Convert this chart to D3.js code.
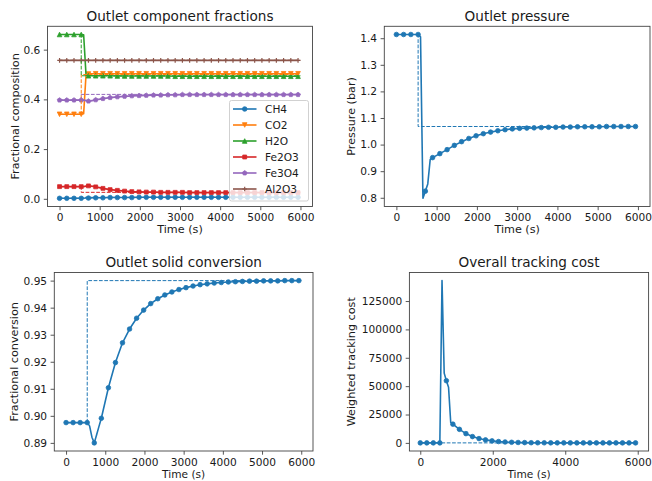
<!DOCTYPE html>
<html><head><meta charset="utf-8">
<script src="https://cdn.jsdelivr.net/npm/d3@7"></script>
<style>
body{margin:0;background:#fff;}
svg{display:block;font-family:"DejaVu Sans",sans-serif;}
</style></head><body>
<svg id="chart" width="652" height="481"></svg>
<script>
// ---------- data ----------
const time = [0,180,360,540,600,660,720,780,840,900,
  1080,1260,1440,1620,1800,1980,2160,2340,2520,2700,
  2880,3060,3240,3420,3600,3780,3960,4140,4320,4500,
  4680,4860,5040,5220,5400,5580,5760,5940];

const componentNames = ["CH4","CO2","H2O","Fe2O3","Fe3O4","Al2O3"];
const ch4 = [0.002,0.002,0.002,0.002,0.002,0.003,0.003,0.003,0.004,0.004,
  0.004,0.005,0.005,0.005,0.005,0.006,0.006,0.006,0.006,0.006,
  0.006,0.006,0.006,0.006,0.006,0.006,0.006,0.006,0.006,0.006,
  0.006,0.006,0.006,0.006,0.006,0.006,0.006,0.006];
const co2 = [0.340,0.340,0.340,0.340,0.342,0.500,0.502,0.503,0.503,0.503,
  0.503,0.503,0.503,0.503,0.503,0.503,0.503,0.503,0.503,0.503,
  0.503,0.503,0.503,0.503,0.503,0.503,0.503,0.503,0.503,0.503,
  0.503,0.503,0.503,0.503,0.503,0.503,0.503,0.503];
const h2o = [0.661,0.661,0.661,0.661,0.660,0.497,0.495,0.495,0.495,0.495,
  0.495,0.495,0.494,0.494,0.494,0.494,0.494,0.494,0.494,0.494,
  0.493,0.493,0.493,0.493,0.493,0.493,0.493,0.493,0.493,0.493,
  0.493,0.493,0.493,0.493,0.493,0.493,0.493,0.493];
const fe2o3 = [0.049,0.049,0.049,0.049,0.049,0.051,0.052,0.051,0.050,0.048,
  0.042,0.037,0.034,0.031,0.029,0.028,0.027,0.027,0.026,0.026,
  0.026,0.026,0.025,0.025,0.025,0.025,0.025,0.025,0.025,0.025,
  0.025,0.025,0.025,0.025,0.025,0.025,0.025,0.025];
const fe3o4 = [0.397,0.397,0.397,0.397,0.397,0.395,0.393,0.394,0.396,0.398,
  0.403,0.407,0.410,0.412,0.414,0.415,0.416,0.417,0.417,0.418,
  0.418,0.419,0.419,0.419,0.419,0.419,0.419,0.419,0.419,0.419,
  0.419,0.419,0.419,0.419,0.419,0.419,0.419,0.419];
const al2o3 = [0.557,0.557,0.557,0.557,0.557,0.557,0.557,0.557,0.557,0.557,
  0.557,0.557,0.557,0.557,0.557,0.557,0.557,0.557,0.557,0.557,
  0.557,0.557,0.557,0.557,0.557,0.557,0.557,0.557,0.557,0.557,
  0.557,0.557,0.557,0.557,0.557,0.557,0.557,0.557];

const pressure = [1.414,1.414,1.414,1.414,1.405,0.798,0.825,0.852,0.944,0.951,
  0.966,0.981,0.997,1.011,1.023,1.033,1.041,1.047,1.052,1.056,
  1.059,1.061,1.062,1.063,1.064,1.065,1.065,1.066,1.066,1.067,
  1.067,1.067,1.067,1.068,1.068,1.068,1.068,1.068];
const conversion = [0.8975,0.8975,0.8975,0.8975,0.8963,0.8921,0.8900,0.8930,0.8961,0.8991,
  0.9104,0.9197,0.9270,0.9321,0.9361,0.9391,0.9415,0.9433,0.9447,0.9458,
  0.9467,0.9474,0.9480,0.9485,0.9488,0.9491,0.9493,0.9495,0.9496,0.9497,
  0.9498,0.9498,0.9499,0.9499,0.9499,0.9500,0.9500,0.9500];
const cost = [0,0,0,0,143000,61500,54800,49000,18000,16500,
  11950,8160,5540,3790,2620,1750,1170,800,530,360,
  240,160,110,70,50,30,20,15,10,7,
  5,3,2,1,1,1,0,0];

// setpoints (step change at 540 s)
const spTime = [0,540,540,6000];
const spCH4 = [0.002,0.002,0.006,0.006];
const spCO2 = [0.340,0.340,0.500,0.500];
const spH2O = [0.661,0.661,0.495,0.495];
const spFe2O3 = [0.049,0.049,0.026,0.026];
const spFe3O4 = [0.397,0.397,0.420,0.420];
const spAl2O3 = [0.557,0.557,0.557,0.557];
const spPressure = [1.414,1.414,1.068,1.068];
const spConversion = [0.8975,0.8975,0.950,0.950];
const spCost = [0,0,0,0];

const xTicks = [0,1000,2000,3000,4000,5000,6000];
const xTicksCost = [0,2000,4000,6000];
const yTicksComp = [0.0,0.2,0.4,0.6];
const yTicksPressure = [0.8,0.9,1.0,1.1,1.2,1.3,1.4];
const yTicksConversion = [0.89,0.90,0.91,0.92,0.93,0.94,0.95];
const yTicksCost = [0,25000,50000,75000,100000,125000];

// ---------- drawing ----------
const colors = ["#1f77b4","#ff7f0e","#2ca02c","#d62728","#9467bd","#8c564b"];
const markerTypes = ["o","v","^","s","p","+"];
const FT = 10.6, FL = 11.2, FTI = 13.6;
const svg = d3.select("#chart");
const textColor = "#1a1a1a";
const spineColor = "#444";

function markerPath(type, s){
  const h = s/2;
  switch(type){
    case "v": return `M0,${h}L${-h},${-h}L${h},${-h}Z`;
    case "^": return `M0,${-h}L${-h},${h}L${h},${h}Z`;
    case "s": { const a=h*0.85; return `M${-a},${-a}H${a}V${a}H${-a}Z`; }
    case "p": {
      const pts=d3.range(5).map(k=>{const ang=-Math.PI/2+k*2*Math.PI/5;return [h*1.05*Math.cos(ang),h*1.05*Math.sin(ang)];});
      return "M"+pts.map(p=>p.join(",")).join("L")+"Z";
    }
    case "+": return `M${-h},0H${h}M0,${-h}V${h}`;
    default: return d3.symbol(d3.symbolCircle, Math.PI*h*h)();
  }
}

function pad(ext){ const d=(ext[1]-ext[0])*0.05; return [ext[0]-d, ext[1]+d]; }

let clipId = 0;
function panel(o){
  const g = svg.append("g");
  const allY = [].concat(...o.series.map(s=>s.values), ...o.series.map(s=>s.sp));
  const x = d3.scaleLinear().domain(pad(d3.extent(time.concat(spTime)))).range([o.l,o.r]);
  const y = d3.scaleLinear().domain(pad(d3.extent(allY))).range([o.b,o.t]);
  const id = "clip"+(clipId++);
  g.append("clipPath").attr("id",id).append("rect")
    .attr("x",o.l).attr("y",o.t).attr("width",o.r-o.l).attr("height",o.b-o.t);
  const plot = g.append("g").attr("clip-path",`url(#${id})`);
  const line = d3.line().x(d=>x(d[0])).y(d=>y(d[1]));
  o.series.forEach((s,i)=>{
    const c = s.color;
    plot.append("path").datum(time.map((t,k)=>[t,s.values[k]]))
      .attr("d",line).attr("fill","none").attr("stroke",c).attr("stroke-width",1.6)
      .attr("stroke-linejoin","round");
    const pts = time.map((t,k)=>[t,s.values[k]]).filter(d=>d[0]%180===0);
    plot.selectAll(null).data(pts).enter().append("path")
      .attr("transform",d=>`translate(${x(d[0])},${y(d[1])})`)
      .attr("d",markerPath(s.marker,4.6))
      .attr("fill",s.marker==="+"?"none":c).attr("stroke",c).attr("stroke-width",s.marker==="+"?1.2:0.8);
  });
  o.series.forEach(s=>{
    plot.append("path").datum(spTime.map((t,k)=>[t,s.sp[k]]))
      .attr("d",line).attr("fill","none").attr("stroke",s.color).attr("stroke-width",1)
      .attr("stroke-dasharray","3.7,1.6");
  });
  // axes
  const ax = g.append("g").attr("transform",`translate(0,${o.b})`)
    .call(d3.axisBottom(x).tickValues(o.xticks).tickSize(3.7).tickPadding(3.5).tickFormat(d3.format("d")));
  const ay = g.append("g").attr("transform",`translate(${o.l},0)`)
    .call(d3.axisLeft(y).tickValues(o.yticks).tickSize(3.7).tickPadding(3.5).tickFormat(d3.format(o.yfmt)));
  [ax,ay].forEach(a=>{
    a.select(".domain").remove();
    a.selectAll("line").attr("stroke",spineColor).attr("stroke-width",0.9);
    a.selectAll("text").attr("fill",textColor).style("font-size",FT+"px").style("font-family","DejaVu Sans");
  });
  g.append("rect").attr("x",o.l).attr("y",o.t).attr("width",o.r-o.l).attr("height",o.b-o.t)
    .attr("fill","none").attr("stroke",spineColor).attr("stroke-width",0.9);
  // title & labels
  g.append("text").attr("x",(o.l+o.r)/2).attr("y",o.t-5.8).attr("text-anchor","middle")
    .attr("fill",textColor).style("font-size",FTI+"px").text(o.title);
  g.append("text").attr("x",(o.l+o.r)/2).attr("y",o.xlabY).attr("text-anchor","middle")
    .attr("fill",textColor).style("font-size",o.xlabF+"px").text("Time (s)");
  g.append("text").attr("transform",`translate(${o.ylabX},${(o.t+o.b)/2}) rotate(-90)`)
    .attr("text-anchor","middle").attr("dy","0.35em")
    .attr("fill",textColor).style("font-size",FL+"px").text(o.ylabel);
  return {g,x,y};
}

const compValues = [ch4,co2,h2o,fe2o3,fe3o4,al2o3];
const compSp = [spCH4,spCO2,spH2O,spFe2O3,spFe3O4,spAl2O3];
const p1 = panel({l:47.5,t:26.3,r:312.5,b:206.5,title:"Outlet component fractions",ylabel:"Fractional composition",ylabX:15,
  xlabY:233.3,xlabF:FL,
  xticks:xTicks,yticks:yTicksComp,yfmt:".1f",
  series:componentNames.map((n,i)=>({name:n,values:compValues[i],sp:compSp[i],color:colors[i],marker:markerTypes[i]}))});
panel({l:384.3,t:26.3,r:650,b:206.5,title:"Outlet pressure",ylabel:"Pressure (bar)",ylabX:351.5,
  xlabY:233.3,xlabF:FL,
  xticks:xTicks,yticks:yTicksPressure,yfmt:".1f",
  series:[{values:pressure,sp:spPressure,color:colors[0],marker:"o"}]});
panel({l:54.3,t:272.5,r:313,b:451,title:"Outlet solid conversion",ylabel:"Fractional conversion",ylabX:14.5,
  xlabY:478.2,xlabF:10.6,
  xticks:xTicks,yticks:yTicksConversion,yfmt:".2f",
  series:[{values:conversion,sp:spConversion,color:colors[0],marker:"o"}]});
panel({l:409.4,t:272.5,r:648.6,b:451,title:"Overall tracking cost",ylabel:"Weighted tracking cost",ylabX:351.5,
  xlabY:478.2,xlabF:10.6,
  xticks:xTicksCost,yticks:yTicksCost,yfmt:"d",
  series:[{values:cost,sp:spCost,color:colors[0],marker:"o"}]});

// legend
const lg = p1.g.append("g");
const lx = 229.5, ly = 100.5, lw = 79, lh = 100.5;
lg.append("rect").attr("x",lx).attr("y",ly).attr("width",lw).attr("height",lh).attr("rx",2)
  .attr("fill","#fff").attr("fill-opacity",0.8).attr("stroke","#cccccc").attr("stroke-width",0.9);
componentNames.forEach((n,i)=>{
  const yy = ly + 8.5 + i*16;
  lg.append("line").attr("x1",lx+3.5).attr("x2",lx+27).attr("y1",yy).attr("y2",yy)
    .attr("stroke",colors[i]).attr("stroke-width",1.6);
  lg.append("path").attr("transform",`translate(${lx+15.2},${yy})`).attr("d",markerPath(markerTypes[i],4.6))
    .attr("fill",markerTypes[i]==="+"?"none":colors[i]).attr("stroke",colors[i]).attr("stroke-width",markerTypes[i]==="+"?1.2:0.8);
  lg.append("text").attr("x",lx+35.5).attr("y",yy).attr("dy","0.36em").attr("fill",textColor)
    .style("font-size",FT+"px").text(n);
});
</script>
</body></html>
